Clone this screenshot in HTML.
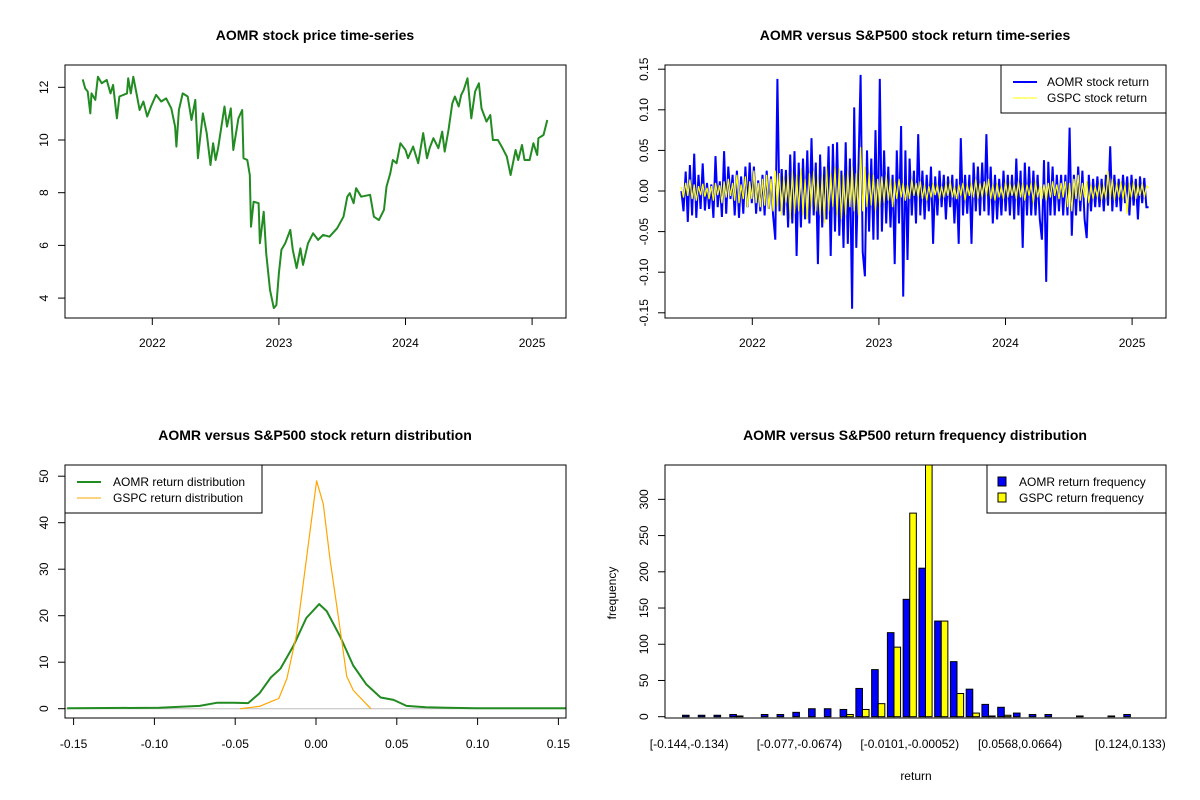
<!DOCTYPE html>
<html><head><meta charset="utf-8"><style>
body{margin:0;background:#fff}
svg{display:block;font-family:"Liberation Sans",Arial,sans-serif}
.t{font-size:12px;fill:#000}
.ti{font-size:14px;font-weight:bold;fill:#000}
</style></head><body>
<svg id="svg" width="1200" height="800" viewBox="0 0 1200 800">
<rect width="1200" height="800" fill="#fff"/>
</svg>
<script>
// ---------- data ----------
const priceYears=[2021.45,2021.47,2021.49,2021.51,2021.52,2021.55,2021.57,2021.60,2021.64,2021.67,2021.69,2021.72,2021.74,2021.80,2021.81,2021.83,2021.85,2021.88,2021.90,2021.93,2021.96,2021.99,2022.03,2022.07,2022.11,2022.15,2022.18,2022.19,2022.21,2022.24,2022.28,2022.31,2022.34,2022.36,2022.40,2022.43,2022.46,2022.48,2022.50,2022.52,2022.55,2022.57,2022.59,2022.62,2022.64,2022.68,2022.71,2022.72,2022.75,2022.77,2022.78,2022.80,2022.84,2022.85,2022.88,2022.90,2022.93,2022.96,2022.98,2023.00,2023.02,2023.05,2023.09,2023.11,2023.14,2023.17,2023.19,2023.23,2023.27,2023.31,2023.35,2023.40,2023.46,2023.51,2023.54,2023.56,2023.59,2023.61,2023.65,2023.72,2023.75,2023.79,2023.83,2023.85,2023.88,2023.90,2023.93,2023.96,2024.00,2024.02,2024.06,2024.10,2024.14,2024.17,2024.19,2024.22,2024.26,2024.29,2024.31,2024.34,2024.37,2024.39,2024.42,2024.44,2024.46,2024.49,2024.52,2024.55,2024.58,2024.60,2024.64,2024.67,2024.69,2024.73,2024.76,2024.80,2024.83,2024.87,2024.89,2024.92,2024.94,2024.98,2025.01,2025.04,2025.05,2025.09,2025.12];
const priceValues=[12.30,11.96,11.84,11.01,11.77,11.52,12.40,12.15,12.28,11.77,12.09,10.82,11.65,11.77,12.34,11.77,12.40,11.65,11.14,11.46,10.89,11.27,11.71,11.46,11.58,11.20,10.51,9.75,11.14,11.77,11.65,10.76,11.52,9.31,11.01,10.26,9.05,9.88,9.24,9.69,10.63,11.27,10.51,11.20,9.62,10.82,11.14,9.31,9.24,8.67,6.71,7.66,7.60,6.08,7.28,5.70,4.31,3.62,3.74,4.95,5.83,6.08,6.59,5.83,5.14,5.89,5.26,6.08,6.46,6.21,6.40,6.33,6.65,7.09,7.85,7.98,7.60,8.17,7.85,7.92,7.09,6.96,7.35,8.23,8.74,9.24,9.12,9.88,9.62,9.31,9.75,9.12,10.26,9.31,9.69,10.07,9.69,10.32,9.56,10.38,11.39,11.65,11.27,11.71,11.90,12.34,10.82,11.84,12.15,11.20,10.70,10.95,10.00,10.00,9.75,9.37,8.67,9.62,9.24,9.81,9.24,9.24,9.88,9.43,10.07,10.19,10.76];
const priceTicksX=[2022,2023,2024,2025];
const priceTicksY=[4,6,8,10,12];

const returnStart=2021.44, returnEnd=2025.13;
const aomrReturns=[0.000,-0.025,0.024,-0.038,0.032,-0.030,0.046,-0.033,0.020,-0.022,
0.034,-0.024,0.010,-0.022,0.008,-0.033,0.043,-0.020,0.012,-0.032,
0.049,-0.028,0.030,-0.010,0.020,-0.030,0.025,-0.033,0.018,-0.028,
0.030,-0.020,0.035,-0.015,0.030,-0.028,0.013,-0.025,0.020,-0.030,
0.025,-0.022,0.018,-0.030,-0.060,0.138,-0.025,0.027,-0.030,0.026,
-0.045,0.045,-0.040,0.049,-0.080,0.035,-0.045,0.040,-0.035,0.050,
-0.040,0.065,-0.030,0.035,-0.090,0.045,-0.045,0.030,-0.035,0.055,
-0.080,0.058,-0.050,0.060,-0.055,0.025,-0.070,0.060,-0.065,0.040,
-0.145,0.103,-0.070,0.030,0.143,-0.075,-0.105,0.050,-0.050,0.040,
-0.060,0.075,-0.060,0.138,-0.050,0.050,-0.040,0.030,-0.045,0.020,
-0.090,0.050,-0.040,0.080,-0.130,0.050,-0.085,0.040,-0.030,0.025,
-0.040,0.070,-0.030,0.025,-0.035,0.020,-0.025,0.030,-0.065,0.018,
-0.030,0.025,-0.020,0.020,-0.035,0.018,-0.020,0.020,-0.040,0.015,
-0.065,0.065,-0.030,0.020,-0.028,0.020,-0.065,0.035,-0.025,0.030,
-0.030,0.035,-0.025,0.070,-0.030,0.030,-0.040,0.020,-0.035,0.015,
-0.030,0.025,-0.025,0.020,-0.030,0.020,-0.035,0.040,-0.030,0.025,
-0.070,0.035,-0.030,0.030,-0.030,0.025,-0.030,0.020,-0.035,-0.060,
0.038,-0.112,0.036,-0.030,0.030,-0.030,0.020,-0.025,0.020,-0.030,
0.020,-0.030,0.078,-0.055,0.020,-0.030,0.030,-0.025,0.025,-0.035,
-0.058,0.020,-0.025,0.015,-0.020,0.018,-0.020,0.015,-0.025,0.020,
-0.018,0.055,-0.025,0.020,-0.020,0.015,-0.025,0.020,-0.015,0.018,
-0.030,0.020,-0.018,0.015,-0.035,0.018,-0.015,0.016,-0.020,-0.020];
const gspcReturns=[0.005,-0.008,0.010,-0.006,0.014,-0.010,0.008,-0.012,0.006,-0.005,0.009,-0.007,0.004,-0.010,0.006,-0.012,0.010,-0.005,0.007,-0.015,
0.012,-0.008,0.015,-0.006,0.010,-0.012,0.020,-0.015,0.008,-0.010,0.018,-0.020,0.012,-0.010,0.025,-0.015,0.010,-0.020,0.015,-0.018,
0.020,-0.022,0.015,-0.025,0.025,-0.020,0.022,-0.030,0.018,-0.015,0.020,-0.035,0.025,-0.028,0.020,-0.025,0.028,-0.030,0.015,-0.035,
0.022,-0.020,0.025,-0.025,0.018,-0.030,0.020,-0.040,0.030,-0.025,0.022,-0.020,0.030,-0.030,0.028,-0.035,0.020,-0.030,0.025,-0.020,
0.030,-0.025,0.022,-0.030,0.054,-0.025,0.030,-0.020,0.022,-0.018,0.020,-0.025,0.015,-0.020,0.018,-0.015,0.020,-0.012,0.015,-0.020,
0.012,-0.010,0.015,-0.008,0.010,-0.012,0.008,-0.010,0.015,-0.006,0.010,-0.008,0.012,-0.010,0.008,-0.012,0.006,-0.008,0.010,-0.005,
0.008,-0.010,0.006,-0.008,0.010,-0.006,0.012,-0.008,0.006,-0.010,0.008,-0.006,0.010,-0.012,0.008,-0.006,0.010,-0.008,0.015,-0.010,
0.010,-0.008,0.012,-0.006,0.015,-0.010,0.008,-0.012,0.010,-0.008,0.006,-0.010,0.012,-0.008,0.010,-0.006,0.008,-0.010,0.012,-0.008,
0.010,-0.012,0.008,-0.006,0.010,-0.015,0.012,-0.008,0.006,-0.010,0.008,-0.012,0.010,-0.008,0.012,-0.006,0.008,-0.010,0.010,-0.008,
0.012,-0.020,0.010,-0.025,0.015,-0.010,0.020,-0.012,0.010,-0.008,0.012,-0.015,0.008,-0.010,0.006,-0.008,0.010,-0.012,0.008,-0.010,
0.025,-0.010,0.015,-0.012,0.010,-0.008,0.012,-0.010,0.008,-0.028,0.010,-0.008,0.012,-0.010,0.008,-0.006,0.010,-0.008,0.006,0.004];
const returnTicksY=[-0.15,-0.10,-0.05,0.00,0.05,0.10,0.15];
const returnTickLabels=["-0.15","-0.10","-0.05","0.00","0.05","0.10","0.15"];

const aomrDensX=[-0.154,-0.097,-0.072,-0.061,-0.051,-0.042,-0.035,-0.028,-0.022,-0.014,-0.006,0.002,0.0066,0.015,0.023,0.031,0.040,0.048,0.056,0.068,0.081,0.099,0.155];
const aomrDensY=[0.1,0.2,0.6,1.3,1.3,1.2,3.3,6.7,8.6,13.5,19.5,22.5,21,15.5,9.3,5.3,2.4,1.9,0.6,0.3,0.2,0.1,0.1];
const gspcDensX=[-0.047,-0.035,-0.028,-0.023,-0.018,-0.012,-0.006,0.0004,0.0045,0.0087,0.015,0.019,0.023,0.027,0.034];
const gspcDensY=[0,0.5,1.5,2.2,6.5,16,32,49,44,32,17,7,4,2.5,0];
const densTicksX=[-0.15,-0.10,-0.05,0.00,0.05,0.10,0.15];
const densTickLabels=["-0.15","-0.10","-0.05","0.00","0.05","0.10","0.15"];
const densTicksY=[0,10,20,30,40,50];

const binLabels=["[-0.144,-0.134)","[-0.077,-0.0674)","[-0.0101,-0.00052)","[0.0568,0.0664)","[0.124,0.133)"];
const binLabelIndex=[0,7,14,21,28];
const aomrFreq=[2,2,2,3,0,3,3,6,11,11,10,39,65,116,162,205,132,76,38,17,13,5,3,3,0,1,0,1,3];
const gspcFreq=[0,0,0,1,0,0,0,0,0,0,3,10,18,96,281,400,132,32,5,1,2,0,0,0,0,0,0,0,0];
const freqTicksY=[0,50,100,150,200,250,300];

// ---------- helpers ----------
const svg=document.getElementById('svg');
const NS='http://www.w3.org/2000/svg';
function mk(tag,attrs,parent){const e=document.createElementNS(NS,tag);for(const k in attrs)e.setAttribute(k,attrs[k]);(parent||svg).appendChild(e);return e;}
function txt(x,y,s,cls,anchor,rot,parent){const e=mk('text',{x:x,y:y,class:cls,'text-anchor':anchor||'middle'},parent);if(rot)e.setAttribute('transform','rotate(-90 '+x+' '+y+')');e.textContent=s;return e;}
function box(x0,y0,x1,y1,p){mk('rect',{x:x0,y:y0,width:x1-x0,height:y1-y0,fill:'none',stroke:'#000','stroke-width':1},p);}

// ---------- panel 1: price ----------
(function(){
const g=mk('g',{});
const L=65,R=566,T=65,B=318;
const sx=t=>152.3+(t-2022)*126.6, sy=p=>87.3-(p-12)*26.35;
txt(315,40,'AOMR stock price time-series','ti','middle',false,g);
const pts=priceYears.map((t,i)=>sx(t).toFixed(1)+','+sy(priceValues[i]).toFixed(1)).join(' ');
const ln=mk('polyline',{points:pts,fill:'none',stroke:'#228B22','stroke-width':2,'stroke-linejoin':'round'},g);

box(L,T,R,B,g);
priceTicksX.forEach(t=>{const x=sx(t);mk('line',{x1:x,x2:x,y1:B,y2:B+7,stroke:'#000'},g);txt(x,347,String(t),'t','middle',false,g);});
priceTicksY.forEach(v=>{const y=sy(v);mk('line',{x1:L,x2:L-7,y1:y,y2:y,stroke:'#000'},g);txt(48,y,String(v),'t','middle',true,g);});
})();

// ---------- panel 2: returns ----------
(function(){
const g=mk('g',{});
const L=665,R=1166,T=65,B=318;
const sx=t=>752.3+(t-2022)*126.6, sy=r=>191-r*812;
txt(915,40,'AOMR versus S&P500 stock return time-series','ti','middle',false,g);
const n=aomrReturns.length, dt=(returnEnd-returnStart)/(n-1);
const pa=aomrReturns.map((r,i)=>sx(returnStart+i*dt).toFixed(1)+','+sy(r).toFixed(1)).join(' ');
const l1=mk('polyline',{points:pa,fill:'none',stroke:'#0000FF','stroke-width':2},g);

const m=gspcReturns.length, dt2=(returnEnd-returnStart)/(m-1);
const pg=gspcReturns.map((r,i)=>sx(returnStart+i*dt2).toFixed(1)+','+sy(r).toFixed(1)).join(' ');
const l2=mk('polyline',{points:pg,fill:'none',stroke:'#FFFF00','stroke-width':1.2},g);

box(L,T,R,B,g);
priceTicksX.forEach(t=>{const x=sx(t);mk('line',{x1:x,x2:x,y1:B,y2:B+7,stroke:'#000'},g);txt(x,347,String(t),'t','middle',false,g);});
returnTicksY.forEach((v,i)=>{const y=sy(v);mk('line',{x1:L,x2:L-7,y1:y,y2:y,stroke:'#000'},g);txt(648,y,returnTickLabels[i],'t','middle',true,g);});
const lg=mk('g',{},g);
mk('rect',{x:1001,y:65,width:165,height:48,fill:'#fff',stroke:'#000'},lg);
mk('line',{x1:1013,x2:1037,y1:82,y2:82,stroke:'#0000FF','stroke-width':2},lg);
mk('line',{x1:1013,x2:1037,y1:98,y2:98,stroke:'#FFFF00','stroke-width':1},lg);
txt(1047,86,'AOMR stock return','t','start',false,lg);
txt(1047,102,'GSPC stock return','t','start',false,lg);
})();

// ---------- panel 3: density ----------
(function(){
const g=mk('g',{});
const L=65,R=566,T=465,B=718;
const sx=r=>316+r*1616, sy=d=>708.7-d*4.65;
txt(315,440,'AOMR versus S&P500 stock return distribution','ti','middle',false,g);
mk('line',{x1:L,x2:R,y1:sy(0),y2:sy(0),stroke:'#bebebe'},g);
const pa=aomrDensX.map((x,i)=>sx(x).toFixed(1)+','+sy(aomrDensY[i]).toFixed(1)).join(' ');
const l1=mk('polyline',{points:pa,fill:'none',stroke:'#228B22','stroke-width':2,'stroke-linejoin':'round'},g);

const pg=gspcDensX.map((x,i)=>sx(x).toFixed(1)+','+sy(gspcDensY[i]).toFixed(1)).join(' ');
const l2=mk('polyline',{points:pg,fill:'none',stroke:'#FFA500','stroke-width':1.2,'stroke-linejoin':'round'},g);

box(L,T,R,B,g);
densTicksX.forEach((v,i)=>{const x=sx(v);mk('line',{x1:x,x2:x,y1:B,y2:B+7,stroke:'#000'},g);txt(x,748,densTickLabels[i],'t','middle',false,g);});
densTicksY.forEach(v=>{const y=sy(v);mk('line',{x1:L,x2:L-7,y1:y,y2:y,stroke:'#000'},g);txt(48,y,String(v),'t','middle',true,g);});
const lg=mk('g',{},g);
mk('rect',{x:65,y:465,width:197,height:48,fill:'#fff',stroke:'#000'},lg);
mk('line',{x1:77,x2:101,y1:482,y2:482,stroke:'#228B22','stroke-width':2},lg);
mk('line',{x1:77,x2:101,y1:498,y2:498,stroke:'#FFA500','stroke-width':1},lg);
txt(113,486,'AOMR return distribution','t','start',false,lg);
txt(113,502,'GSPC return distribution','t','start',false,lg);
})();

// ---------- panel 4: histogram ----------
(function(){
const g=mk('g',{});
const L=665,R=1166,T=465,B=718;
const bw=6.6, step=15.76, x0=682.5;
const sy=v=>716.7-v*0.7245;
txt(915,440,'AOMR versus S&P500 return frequency distribution','ti','middle',false,g);
const cp=mk('clipPath',{id:'clip4'},g);mk('rect',{x:L,y:T,width:R-L,height:B-T},cp);
const bars=mk('g',{'clip-path':'url(#clip4)'},g);
aomrFreq.forEach((v,i)=>{const x=x0+i*step;const r=mk('rect',{x:x,y:sy(v),width:bw,height:sy(0)-sy(v),fill:'#0000FF',stroke:'#000','stroke-width':1},bars);
});
gspcFreq.forEach((v,i)=>{const x=x0+i*step+bw;const r=mk('rect',{x:x,y:sy(v),width:bw,height:sy(0)-sy(v),fill:'#FFFF00',stroke:'#000','stroke-width':1},bars);
});
box(L,T,R,B,g);
freqTicksY.forEach(v=>{const y=sy(v);mk('line',{x1:L,x2:L-7,y1:y,y2:y,stroke:'#000'},g);txt(648,y,String(v),'t','middle',true,g);});
binLabelIndex.forEach((idx,i)=>{txt(x0+idx*step+bw,748,binLabels[i],'t','middle',false,g);});
txt(916,780,'return','t','middle',false,g);
txt(616,593,'frequency','t','middle',true,g);
const lg=mk('g',{},g);
mk('rect',{x:987,y:465,width:179,height:48,fill:'#fff',stroke:'#000'},lg);
mk('rect',{x:998,y:477,width:8,height:9,fill:'#0000FF',stroke:'#000'},lg);
mk('rect',{x:998,y:493,width:8,height:9,fill:'#FFFF00',stroke:'#000'},lg);
txt(1019,486,'AOMR return frequency','t','start',false,lg);
txt(1019,502,'GSPC return frequency','t','start',false,lg);
})();
</script>
</body></html>
